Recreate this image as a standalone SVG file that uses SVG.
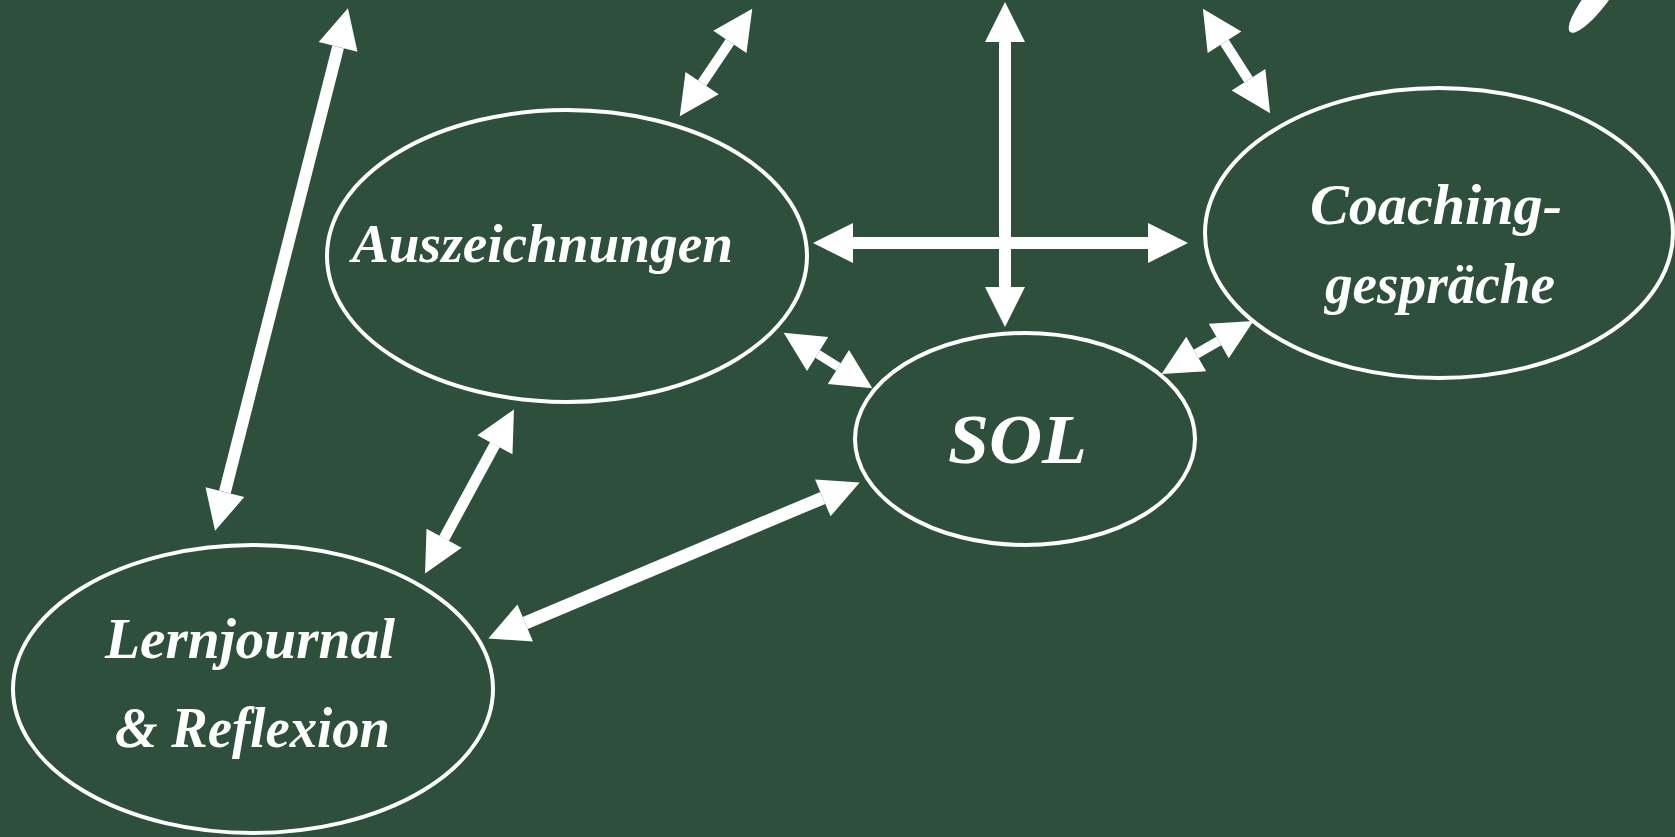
<svg xmlns="http://www.w3.org/2000/svg" width="1675" height="837" viewBox="0 0 1675 837">
<defs>
<style>
.node{fill:none;stroke:#ffffff;stroke-width:4}
.lbl{fill:#ffffff;font-family:"Liberation Serif","DejaVu Serif",serif;font-style:italic;font-weight:bold}
.con{stroke:#ffffff;stroke-linecap:butt;fill:none;marker-start:url(#head);marker-end:url(#head)}
</style>
<marker id="head" markerUnits="userSpaceOnUse" markerWidth="40" markerHeight="40" viewBox="0 -18 36 36" refX="0" refY="0" orient="auto-start-reverse" overflow="visible">
<path d="M0,-18 L36,0 L0,18 Z" fill="#ffffff"/>
</marker>
</defs>
<rect x="0" y="0" width="1675" height="837" fill="#2d4f3c"/>
<ellipse cx="1596" cy="-1" rx="42" ry="11" transform="rotate(-52 1596 -1)" fill="#ffffff"/>
<g id="connectors">
<line class="con" x1="338.1" y1="46.9" x2="224.9" y2="492.1" stroke-width="12"/>
<line class="con" x1="494.9" y1="444.7" x2="444.1" y2="538.3" stroke-width="11"/>
<line class="con" x1="525.2" y1="623" x2="822.8" y2="497.9" stroke-width="13"/>
<line class="con" x1="817.6" y1="354" x2="838.4" y2="367" stroke-width="9"/>
<line class="con" x1="1196.2" y1="354" x2="1218.8" y2="341" stroke-width="10"/>
<line class="con" x1="1224.5" y1="42.3" x2="1248.5" y2="79.7" stroke-width="10"/>
<line class="con" x1="729.9" y1="41.9" x2="702.1" y2="83.1" stroke-width="10"/>
<line class="con" x1="1005" y1="42" x2="1005" y2="287" stroke-width="12"/>
<line class="con" x1="853" y1="243" x2="1148" y2="243" stroke-width="12"/>
</g>
<g id="node-auszeichnungen">
<ellipse class="node" cx="567" cy="256" rx="240" ry="146"/>
<text class="lbl" x="352" y="262" font-size="54" textLength="381" lengthAdjust="spacingAndGlyphs">Auszeichnungen</text>
</g>
<g id="node-sol">
<ellipse class="node" cx="1025" cy="439" rx="170" ry="106"/>
<text class="lbl" x="948" y="463" font-size="70" textLength="139" lengthAdjust="spacingAndGlyphs">SOL</text>
</g>
<g id="node-coaching">
<ellipse class="node" cx="1439" cy="233" rx="234" ry="145"/>
<text class="lbl" x="1310" y="224" font-size="56" textLength="252" lengthAdjust="spacingAndGlyphs">Coaching-</text>
<text class="lbl" x="1325" y="303" font-size="56" textLength="230" lengthAdjust="spacingAndGlyphs">gespräche</text>
</g>
<g id="node-lernjournal">
<ellipse class="node" cx="253" cy="689" rx="240" ry="144"/>
<text class="lbl" x="105" y="658" font-size="56" textLength="290" lengthAdjust="spacingAndGlyphs">Lernjournal</text>
<text class="lbl" x="115" y="747" font-size="56" textLength="275" lengthAdjust="spacingAndGlyphs">&amp; Reflexion</text>
</g>
</svg>
